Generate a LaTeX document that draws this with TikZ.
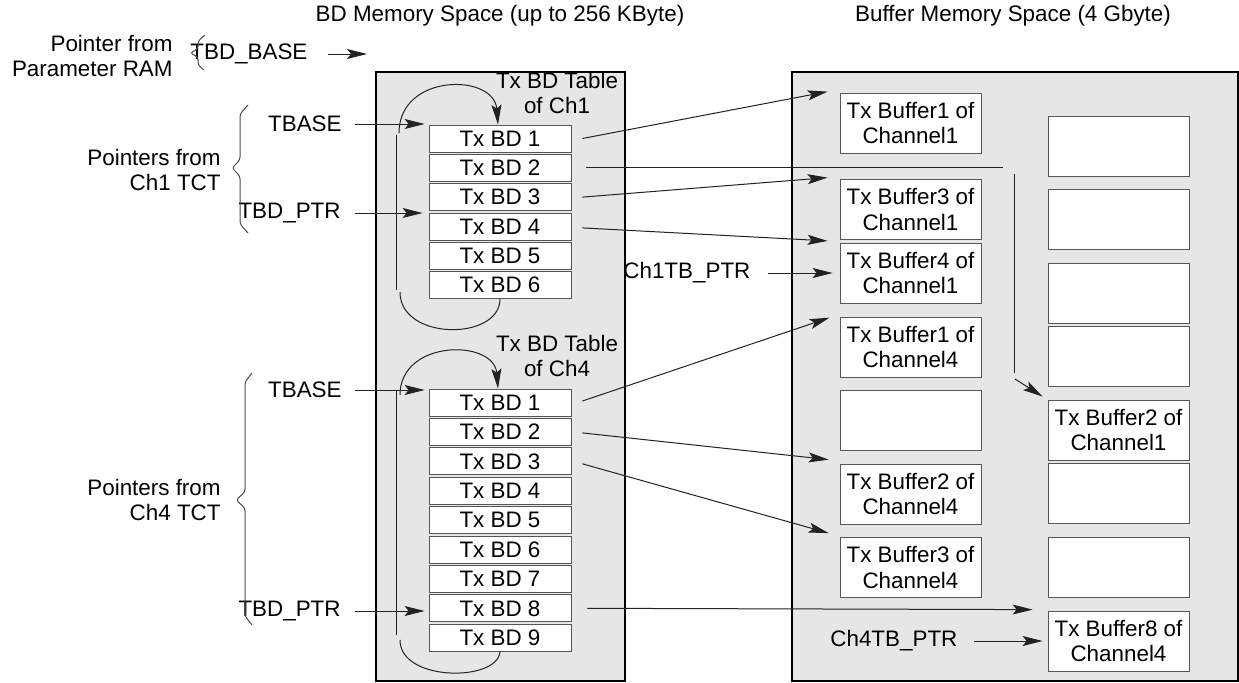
\documentclass[tikz,border=0pt]{standalone}
\usepackage{fontspec}
\setmainfont{Liberation Sans}
\usetikzlibrary{arrows.meta,positioning}
\tikzset{>=Stealth}
\definecolor{memfill}{HTML}{E6E6E6}
\definecolor{boxline}{HTML}{555555}
\definecolor{wire}{HTML}{222222}
\begin{document}
\begin{tikzpicture}[x=0.5pt,y=-0.5pt,
    every node/.style={font=\fontsize{11.2}{12.8}\selectfont,inner sep=0pt},
    mem/.style={draw=black,line width=1pt,fill=memfill},
    bdrow/.style={draw=boxline,fill=white,minimum width=71pt,minimum height=13.5pt},
    bufbox/.style={draw=boxline,fill=white,minimum width=70.5pt,minimum height=30pt,align=center},
    plain/.style={draw=wire,line width=0.5pt},
    ptr/.style={plain,->,>={Stealth[length=10pt,width=5pt,inset=2pt]}},
    brace/.style={draw=black!70,line width=0.5pt,rounded corners=1.5pt}]
    \useasboundingbox (0,0) rectangle (1239,682);
    \draw[mem] (376,72) rectangle (625,681);
    \draw[mem] (792,72) rectangle (1238,681);
    \node at (500,16) (bdhead) {BD Memory Space (up to 256 KByte)};
    \node at (1013,16) (bufhead) {Buffer Memory Space (4 Gbyte)};
    % pointers on the left
    \node[align=right,anchor=east] at (173,56) (pram) {Pointer from\\Parameter RAM};
    \node[anchor=west] at (190,54) (tbdbase) {TBD\_BASE};
    \coordinate (tbdbaseto) at (367,54);
    \draw[brace] (205,35) -- (198,41) -- (198,49) -- (190,53) -- (198,57) -- (198,65) -- (204,70);
    \node[align=right,anchor=east] at (221,170) (c1tct) {Pointers from\\Ch1 TCT};
    \node[anchor=east] at (342,124) (c1tbase) {TBASE};
    \node[anchor=east] at (341,213) (c1tbdptr) {TBD\_PTR};
    \draw[brace] (248,105) -- (240,114) -- (240,160) -- (232,168) -- (240,176) -- (240,224) -- (248,233);
    \node[align=right,anchor=east] at (221,500) (c4tct) {Pointers from\\Ch4 TCT};
    \node[anchor=east] at (342,390) (c4tbase) {TBASE};
    \node[anchor=east] at (341,611) (c4tbdptr) {TBD\_PTR};
    \draw[brace] (252,373) -- (245,382) -- (245,492) -- (236,500) -- (245,508) -- (245,616) -- (252,625);
    % BD tables
    \node[align=center] at (557,93) (c1title) {Tx BD Table\\of Ch1};
    \foreach \i in {1,...,6}
        \node[bdrow] at (500,{138.5+29.3*(\i-1)}) (c1bd\i) {Tx BD \i};
    \node[align=center] at (557,356) (c4title) {Tx BD Table\\of Ch4};
    \foreach \i in {1,...,9}
        \node[bdrow] at (500,{402.5+29.4*(\i-1)}) (c4bd\i) {Tx BD \i};
    % buffers
    \node[bufbox] at (910.5,123) (buf1ch1) {Tx Buffer1 of\\Channel1};
    \node[bufbox] at (910.5,209.5) (buf3ch1) {Tx Buffer3 of\\Channel1};
    \node[bufbox] at (910.5,273) (buf4ch1) {Tx Buffer4 of\\Channel1};
    \node[bufbox] at (910.5,347) (buf1ch4) {Tx Buffer1 of\\Channel4};
    \node[bufbox] at (910.5,420.5) (bufe1) {};
    \node[bufbox] at (910.5,494) (buf2ch4) {Tx Buffer2 of\\Channel4};
    \node[bufbox] at (910.5,567.5) (buf3ch4) {Tx Buffer3 of\\Channel4};
    \node[bufbox] at (1118.5,146) (bufe2) {};
    \node[bufbox] at (1118.5,219) (bufe3) {};
    \node[bufbox] at (1118.5,293) (bufe4) {};
    \node[bufbox] at (1118.5,356) (bufe5) {};
    \node[bufbox] at (1118.5,430) (buf2ch1) {Tx Buffer2 of\\Channel1};
    \node[bufbox] at (1118.5,493) (bufe6) {};
    \node[bufbox] at (1118.5,567.5) (bufe7) {};
    \node[bufbox] at (1118.5,641) (buf8ch4) {Tx Buffer8 of\\Channel4};
    \node[anchor=west] at (623,273) (ch1tb) {Ch1TB\_PTR};
    \node[anchor=west] at (830,641) (ch4tb) {Ch4TB\_PTR};
    % pointer arrows
    \draw[ptr,shorten <=10pt] (tbdbase.east) -- (tbdbaseto);
    \draw[ptr,shorten <=6.5pt,shorten >=2pt] (c1tbase.east) -- (c1tbase.east -| c1bd1.west);
    \draw[ptr,shorten <=7pt,shorten >=3pt] (c1tbdptr.east) -- (c1tbdptr.east -| c1bd4.west);
    \draw[ptr,shorten <=6.5pt,shorten >=2pt] (c4tbase.east) -- (c4tbase.east -| c4bd1.west);
    \draw[ptr,shorten <=7pt,shorten >=2pt] (c4tbdptr.east) -- (c4tbdptr.east -| c4bd8.west);
    \draw[ptr,shorten <=8.5pt,shorten >=3.5pt] (ch1tb.east) -- (ch1tb.east -| buf4ch1.west);
    \draw[ptr,shorten <=8pt,shorten >=2.5pt] (ch4tb.east) -- (ch4tb.east -| buf8ch4.west);
    % BD to buffer
    \draw[ptr] ([xshift=5.5pt]c1bd1.east) -- ([xshift=-6pt,yshift=0.5pt]buf1ch1.north west);
    \draw[ptr] ([xshift=5.5pt]c1bd3.east) -- ([xshift=-6pt,yshift=0.75pt]buf3ch1.north west);
    \draw[ptr] ([xshift=5.5pt,yshift=-0.75pt]c1bd4.east) -- ([xshift=-6pt,yshift=-0.5pt]buf3ch1.south west);
    \draw[ptr] ([xshift=5.5pt,yshift=0.75pt]c4bd1.east) -- ([xshift=-5pt,yshift=-0.5pt]buf1ch4.north west);
    \draw[ptr] ([xshift=5.5pt,yshift=-0.5pt]c4bd2.east) -- ([xshift=-5.5pt,yshift=2pt]buf2ch4.north west);
    \draw[ptr] ([xshift=5.5pt,yshift=-1.25pt]c4bd3.east) -- ([xshift=-5.5pt,yshift=2pt]buf3ch4.north west);
    \draw[ptr] ([xshift=8pt]c4bd8.east) -- ([xshift=-7.5pt,yshift=0.5pt]buf8ch4.north west);
    \coordinate (c1bd2a) at (1014,167.8);
    \coordinate (c1bd2b) at (1014,373);
    \draw[plain] ([xshift=7.5pt]c1bd2.east) -- ([xshift=-5.5pt]c1bd2a);
    \draw[plain] ([yshift=-3pt]c1bd2a) -- (c1bd2b);
    \draw[ptr] ([xshift=0.5pt,yshift=-3pt]c1bd2b) -- ([xshift=-2.5pt,yshift=1.5pt]buf2ch1.north west);
    % ring arrows
    \draw[plain] (c1bd6.south) .. controls (500,341) and (400,341) .. (400,292);
    \draw[plain] (396,290) -- (396,135);
    \draw[ptr] (399,133) .. controls (399,73) and (494,73) .. ([xshift=-1pt]c1bd1.north);
    \draw[plain] (c4bd9.south) .. controls (498,682) and (400,682) .. (400,640);
    \draw[plain] (396,635) -- (396,390);
    \draw[ptr] (400,395) .. controls (400,339) and (494,339) .. ([xshift=-1pt]c4bd1.north);
\end{tikzpicture}
\end{document}
